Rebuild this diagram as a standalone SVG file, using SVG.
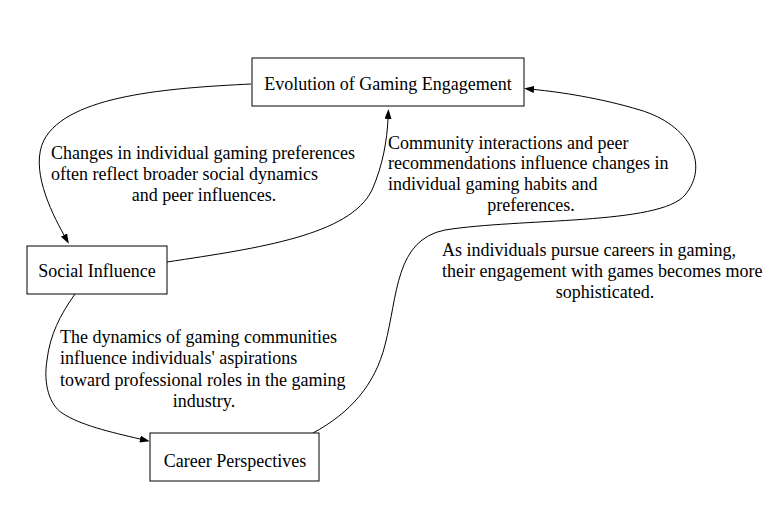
<svg xmlns="http://www.w3.org/2000/svg" width="774" height="508" viewBox="0 0 774 508">
<style>
.box{fill:#fff;stroke:#000;stroke-width:1}
.edge{fill:none;stroke:#000;stroke-width:1}
text{font-family:"Liberation Serif","Times New Roman",serif;font-size:18px;fill:#000}
.m{text-anchor:middle}
</style>
<defs>
<marker id="ah" markerWidth="10" markerHeight="7" refX="0" refY="3.5" orient="auto" markerUnits="userSpaceOnUse">
<path d="M0,0 L10,3.5 L0,7 z" fill="#000"/>
</marker>
</defs>
<rect width="774" height="508" fill="#fff"/>
<g id="connectors">
<path class="edge" marker-end="url(#ah)" d="M251,84 C170,88 68,95 44,140 C30,168 50,210 64,235"/>
<path class="edge" marker-end="url(#ah)" d="M167,262 C260,248 350,235 372,190 C383,165 387,140 388,119"/>
<path class="edge" marker-end="url(#ah)" d="M313,433 C350,413 375,385 385,345 C398,295 395,240 445,230 C520,218 660,225 685,195 C710,165 690,125 640,110 C600,98 560,92 534,89.5"/>
<path class="edge" marker-end="url(#ah)" d="M75,294 C60,315 50,335 47,360 C43,385 50,405 62,413 C80,425 110,432 140,439"/>
</g>
<g id="labels">
<text x="51" y="159">Changes in individual gaming preferences</text>
<text x="51" y="180">often reflect broader social dynamics</text>
<text class="m" x="204" y="201">and peer influences.</text>
<text x="388" y="149">Community interactions and peer</text>
<text x="388" y="169">recommendations influence changes in</text>
<text x="388" y="190">individual gaming habits and</text>
<text class="m" x="531" y="211">preferences.</text>
<text x="442" y="256">As individuals pursue careers in gaming,</text>
<text x="442" y="277">their engagement with games becomes more</text>
<text class="m" x="605" y="298">sophisticated.</text>
<text x="60" y="343">The dynamics of gaming communities</text>
<text x="60" y="364">influence individuals' aspirations</text>
<text x="60" y="386">toward professional roles in the gaming</text>
<text class="m" x="204" y="407">industry.</text>
</g>
<g id="node-evolution">
<rect class="box" x="252" y="58" width="272" height="48"/>
<text class="m" x="388" y="90">Evolution of Gaming Engagement</text>
</g>
<g id="node-social">
<rect class="box" x="27" y="246" width="140" height="48"/>
<text class="m" x="97" y="277">Social Influence</text>
</g>
<g id="node-career">
<rect class="box" x="150" y="433" width="169" height="48"/>
<text class="m" x="235" y="467">Career Perspectives</text>
</g>
</svg>
